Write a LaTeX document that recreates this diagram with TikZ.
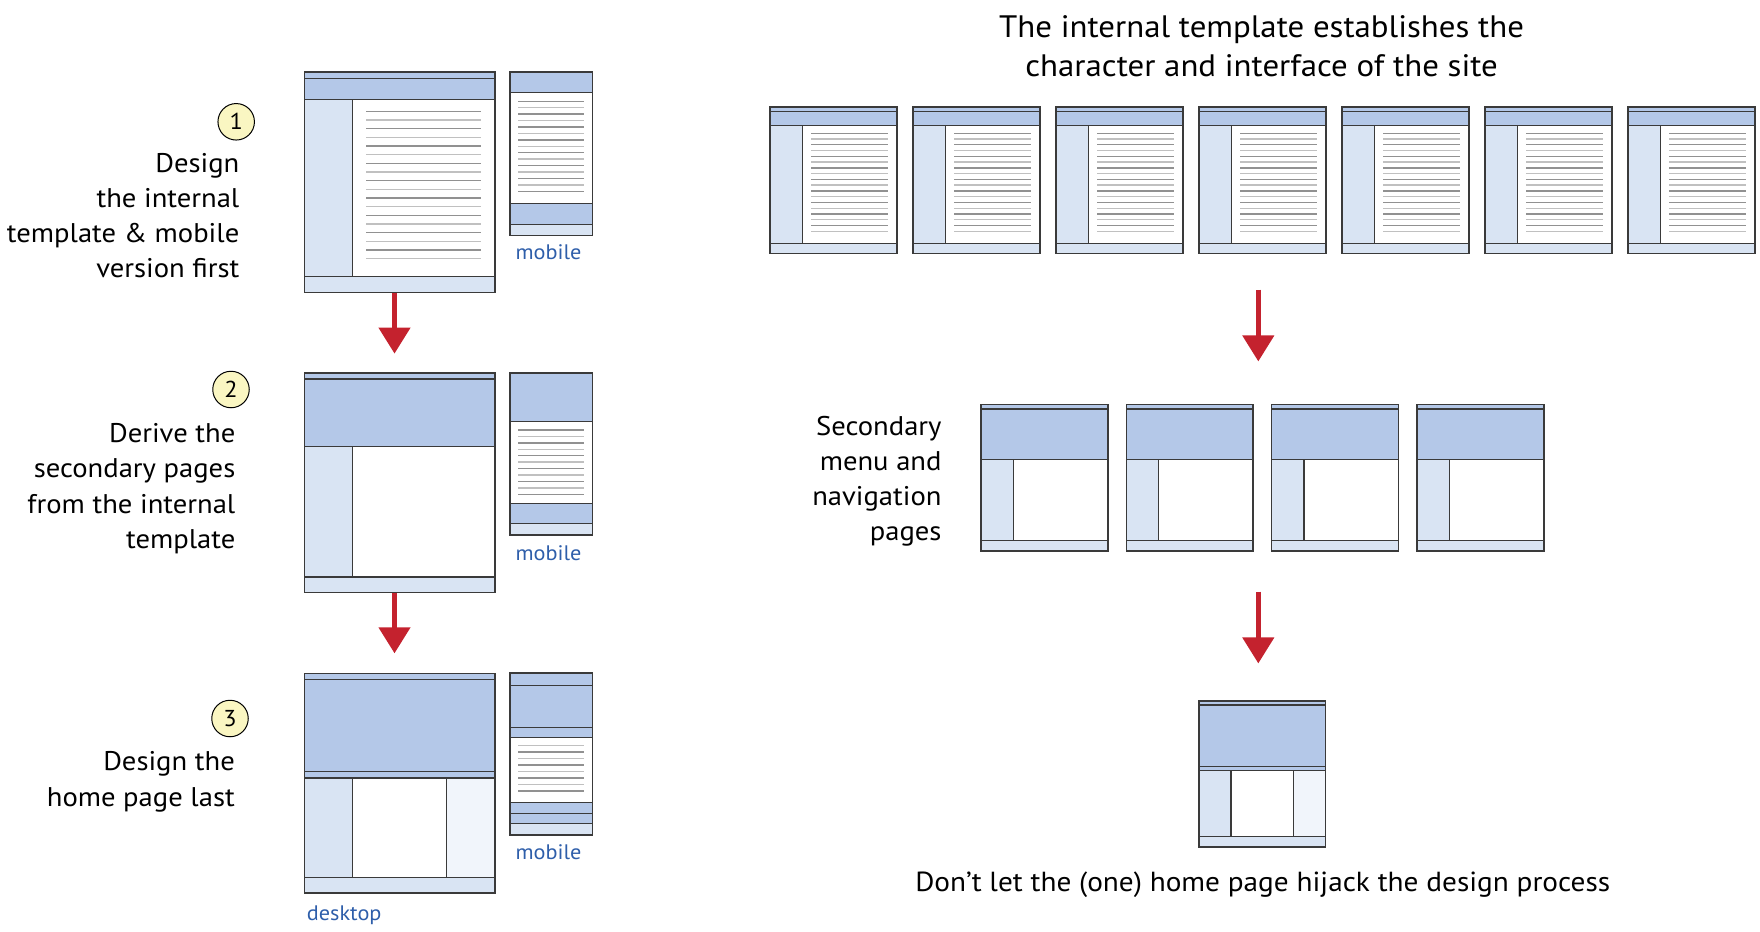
\documentclass[tikz,border=0pt]{standalone}
\usepackage{fontspec}
\setmainfont{PT Sans}[FakeStretch=1.06]
\usetikzlibrary{arrows.meta,fit}

\definecolor{hdr}{RGB}{180,200,232}
\definecolor{side}{RGB}{217,228,243}
\definecolor{sidepale}{RGB}{241,245,251}
\definecolor{edgegray}{RGB}{58,58,58}
\definecolor{tla}{RGB}{145,145,145}
\definecolor{tlb}{RGB}{192,192,192}
\definecolor{arrowred}{RGB}{196,34,46}
\definecolor{labelblue}{RGB}{46,94,170}
\definecolor{numfill}{RGB}{250,246,194}

\tikzset{
  outer/.style={draw=edgegray,line width=1.6pt,inner sep=0pt},
  inner/.style={draw=edgegray,line width=1.3pt},
  textdark/.style={draw=tla,line width=1.4pt},
  textlight/.style={draw=tlb,line width=1.4pt},
  bigarrow/.style={draw=arrowred,line width=4.6pt,-{Triangle[width=31pt,length=26pt]}},
  steptext/.style={font=\fontsize{27}{35.2}\selectfont,align=right,inner sep=0pt},
  headtext/.style={font=\fontsize{31}{39}\selectfont,align=center,inner sep=0pt},
  captext/.style={font=\fontsize{27.6}{35}\selectfont,inner sep=0pt},
  devlabel/.style={font=\fontsize{21}{24}\selectfont,text=labelblue,inner sep=0pt,anchor=west},
  stepnum/.style={circle,draw=black,line width=1pt,fill=numfill,minimum size=36.5pt,inner sep=0pt,font=\fontsize{23}{26}\selectfont},
}

% Internal template page, drawn in units of a 190.4 x 220 page, placed at (#2,#3), scaled by #4
\newcommand\internalpage[4]{%
  \begin{scope}[shift={(#2,#3)},scale=#4]
    \fill[hdr] (0,0) rectangle (190.4,27);
    \fill[side] (0,27) rectangle (48.4,204.4);
    \fill[side] (0,204.4) rectangle (190.4,220);
    \foreach \i in {0,2,...,16}{\draw[textdark] (62,39+\i*8.67) -- (177,39+\i*8.67);}
    \foreach \i in {1,3,...,17}{\draw[textlight] (62,39+\i*8.67) -- (177,39+\i*8.67);}
    \draw[inner] (0,6) -- (190.4,6) (0,27) -- (190.4,27)
                 (48.4,27) -- (48.4,204.4) (0,204.4) -- (190.4,204.4);
    \path (0,0) coordinate (#1-nw) (190.4,220) coordinate (#1-se);
  \end{scope}
  \node[outer,fit=(#1-nw)(#1-se)] (#1) {};}

% Secondary page: name, x, y, width, height, strip, header bottom, sidebar width, footer top
\newcommand\secondarypage[9]{%
  \begin{scope}[shift={(#2,#3)}]
    \fill[hdr] (0,0) rectangle (#4,#7);
    \fill[side] (0,#7) rectangle (#8,#9);
    \fill[side] (0,#9) rectangle (#4,#5);
    \draw[inner] (0,#6) -- (#4,#6) (0,#7) -- (#4,#7)
                 (#8,#7) -- (#8,#9) (0,#9) -- (#4,#9);
    \path (0,0) coordinate (#1-nw) (#4,#5) coordinate (#1-se);
  \end{scope}
  \node[outer,fit=(#1-nw)(#1-se)] (#1) {};}

% Home page, drawn in units of a 190.4 x 219.4 page, placed at (#2,#3), scaled by #4
\newcommand\homepage[4]{%
  \begin{scope}[shift={(#2,#3)},scale=#4]
    \fill[hdr] (0,0) rectangle (190.4,104.7);
    \fill[side] (0,104.7) rectangle (48.4,204);
    \fill[sidepale] (142,104.7) rectangle (190.4,204);
    \fill[side] (0,204) rectangle (190.4,219.4);
    \draw[inner] (0,6) -- (190.4,6) (0,98.4) -- (190.4,98.4) (0,104.7) -- (190.4,104.7)
                 (48.4,104.7) -- (48.4,204) (142,104.7) -- (142,204) (0,204) -- (190.4,204);
    \path (0,0) coordinate (#1-nw) (190.4,219.4) coordinate (#1-se);
  \end{scope}
  \node[outer,fit=(#1-nw)(#1-se)] (#1) {};}

\begin{document}
\begin{tikzpicture}[x=1pt,y=-1pt]
\useasboundingbox (0,0) rectangle (1760,931);

% ---------- step 1: internal template and its mobile version ----------
\internalpage{p1}{304.3}{72.3}{1}
\begin{scope}[shift={(510,72.3)}]
  \fill[hdr] (0,0) rectangle (82.3,20);
  \fill[hdr] (0,131) rectangle (82.3,152);
  \fill[side] (0,152) rectangle (82.3,163);
  \foreach \i in {0,2,...,14}{\draw[textdark] (8.3,29+\i*6.43) -- (73.7,29+\i*6.43);}
  \foreach \i in {1,3,...,13}{\draw[textlight] (8.3,29+\i*6.43) -- (73.7,29+\i*6.43);}
  \draw[inner] (0,20) -- (82.3,20) (0,131) -- (82.3,131) (0,152) -- (82.3,152);
  \path (0,0) coordinate (m1-nw) (82.3,163) coordinate (m1-se);
\end{scope}
\node[outer,fit=(m1-nw)(m1-se)] (m1) {};
\node[devlabel] (m1lab) at (515.3,251.7) {mobile};

% ---------- step 2: secondary page and its mobile version ----------
\secondarypage{p2}{304.3}{372.7}{190.4}{219.6}{6.3}{73.6}{48.4}{204.3}
\begin{scope}[shift={(510,372.7)}]
  \fill[hdr] (0,0) rectangle (82.3,49);
  \fill[hdr] (0,130.6) rectangle (82.3,151);
  \fill[side] (0,151) rectangle (82.3,162.3);
  \foreach \i in {0,2,...,10}{\draw[textdark] (8.3,57.3+\i*6.43) -- (73.7,57.3+\i*6.43);}
  \foreach \i in {1,3,...,9}{\draw[textlight] (8.3,57.3+\i*6.43) -- (73.7,57.3+\i*6.43);}
  \draw[inner] (0,49) -- (82.3,49) (0,130.6) -- (82.3,130.6) (0,151) -- (82.3,151);
  \path (0,0) coordinate (m2-nw) (82.3,162.3) coordinate (m2-se);
\end{scope}
\node[outer,fit=(m2-nw)(m2-se)] (m2) {};
\node[devlabel] (m2lab) at (515.3,552.7) {mobile};

% ---------- step 3: home page, desktop and mobile ----------
\homepage{p3}{304.3}{673.3}{1}
\begin{scope}[shift={(510,672.7)}]
  \fill[hdr] (0,0) rectangle (82.3,65);
  \fill[hdr] (0,130) rectangle (82.3,151);
  \fill[side] (0,151) rectangle (82.3,162.3);
  \foreach \i in {0,2,...,6}{\draw[textlight] (8.3,73+\i*6.47) -- (73.7,73+\i*6.47);}
  \foreach \i in {1,3,...,7}{\draw[textdark] (8.3,73+\i*6.47) -- (73.7,73+\i*6.47);}
  \draw[inner] (0,12.6) -- (82.3,12.6) (0,55) -- (82.3,55) (0,65) -- (82.3,65)
               (0,130) -- (82.3,130) (0,140.6) -- (82.3,140.6) (0,151) -- (82.3,151);
  \path (0,0) coordinate (m3-nw) (82.3,162.3) coordinate (m3-se);
\end{scope}
\node[outer,fit=(m3-nw)(m3-se)] (m3) {};
\node[devlabel] (m3lab) at (515.3,851.7) {mobile};
\node[devlabel] (p3lab) at (306.7,915) {desktop};

% ---------- step labels ----------
\node[stepnum] (n1) at (236.2,121.8) {1};
\node[steptext,anchor=east] (d1) at (239.5,215.5)
  {Design\hspace{0.25em}\\the internal\\template \& mobile\\version first};
\node[stepnum] (n2) at (231,389.5) {2};
\node[steptext,anchor=east] (d2) at (235.5,488.7)
  {Derive the\\secondary pages\\from the internal\\template};
\node[stepnum] (n3) at (230,718.5) {3};
\node[steptext,anchor=east] (d3) at (235,781.8)
  {Design the\\home page last};

% ---------- left column arrows ----------
\coordinate (a1tip) at (394.5,353.6);
\coordinate (a2tip) at (394.5,653.3);
\draw[bigarrow] (p1.south -| a1tip) -- (a1tip);
\draw[bigarrow] (p2.south -| a2tip) -- (a2tip);

% ---------- right side: row of internal pages ----------
\node[headtext] (title) at (1261.6,46.5)
  {The internal template establishes the\\character and interface of the site};
\foreach \k in {0,...,6}{\internalpage{t\k}{770+\k*143}{107.3}{0.6654}}

\coordinate (r1top) at (1258.3,289.6);
\coordinate (r1tip) at (1258.3,361.4);
\draw[bigarrow] (r1top) -- (r1tip);

% ---------- secondary pages ----------
\node[steptext,anchor=east] (slab) at (941.7,481.4)
  {Secondary\\menu and\\navigation\\pages};
\secondarypage{s1}{981}{404.3}{126.7}{146.7}{4.7}{55}{32.3}{136.4}
\secondarypage{s2}{1126.3}{404.3}{126.7}{146.7}{4.7}{55}{32.3}{136.4}
\secondarypage{s3}{1271.6}{404.3}{126.7}{146.7}{4.7}{55}{32.3}{136.4}
\secondarypage{s4}{1417}{404.3}{126.7}{146.7}{4.7}{55}{32.3}{136.4}

\coordinate (r2top) at (1258.3,591.5);
\coordinate (r2tip) at (1258.3,663.4);
\draw[bigarrow] (r2top) -- (r2tip);

% ---------- single home page ----------
\homepage{h1}{1198.7}{701}{0.6654}
\node[captext] (cap) at (1262.7,884.4)
  {Don’t let the (one) home page hijack the design process};
\end{tikzpicture}
\end{document}
